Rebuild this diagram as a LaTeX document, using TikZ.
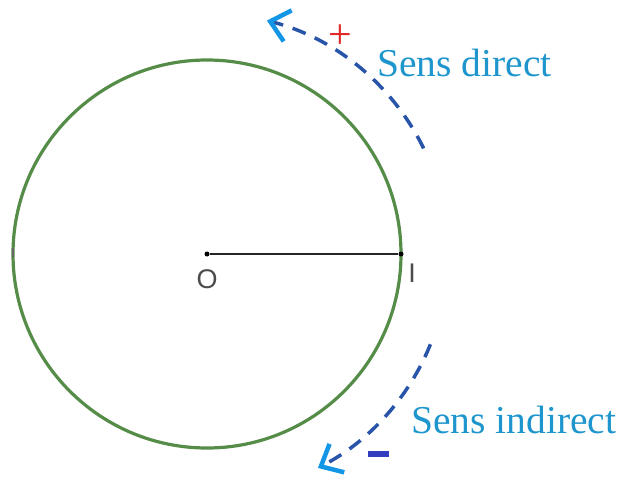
\documentclass[tikz,border=0pt]{standalone}
\usepackage{fontspec}
\setmainfont{Liberation Serif}
\newfontfamily\pointfont{Liberation Sans}
\usetikzlibrary{arrows.meta}

\definecolor{circlegreen}{RGB}{84,140,72}
\definecolor{dashblue}{RGB}{40,85,170}
\definecolor{tipblue}{RGB}{20,150,230}
\definecolor{textblue}{RGB}{30,150,205}
\definecolor{plusred}{RGB}{225,40,40}
\definecolor{minusblue}{RGB}{50,60,190}

\begin{document}
\begin{tikzpicture}[x=1pt, y=-1pt,
  sensarrow/.style={dashblue, line width=3.5pt, dash pattern=on 14pt off 10pt,
    -{Straight Barb[length=18pt, width=32pt, line width=4.5pt, color=tipblue]}},
  senslabel/.style={textblue, font=\fontsize{39.5}{41}\selectfont, anchor=base west, inner sep=0pt},
  pointlabel/.style={black!70, font=\pointfont\fontsize{27}{29}\selectfont, inner sep=0pt},
  dot/.style={circle, fill=black, inner sep=0pt, minimum size=5pt}]

\useasboundingbox (0,0) rectangle (617,481);

% Circle
\coordinate (C) at (207,254);
\draw[circlegreen, line width=3.2pt] (C) circle[radius=194];
\draw[black!60, line width=1.5pt] (13,248) -- (13,257);

% Radius [OI]
\node[dot] (O) at (C) {};
\node[dot] (I) at (401,254) {};
\draw[line width=1.7pt, black!85] (O) -- (I);
\node[pointlabel] (Olab) at (207,279) {O};
\node[pointlabel] (Ilab) at (412,273) {I};

% Sens direct
\draw[sensarrow] ([shift={(-26:241)}]C) arc[start angle=-26, end angle=-75.6, radius=241];
\node[plusred, font=\fontsize{42}{44}\selectfont, inner sep=0pt] (plus) at (340,37) {+};
\node[senslabel] (direct) at (377,77) {Sens direct};

% Sens indirect
\draw[sensarrow] ([shift={(22:241)}]C) arc[start angle=22, end angle=62.6, radius=241];
\node[minusblue, inner sep=0pt] (minus) at (378.5,454) {\rule{21pt}{6pt}};
\node[senslabel] (indirect) at (411,433) {Sens indirect};

\end{tikzpicture}
\end{document}
